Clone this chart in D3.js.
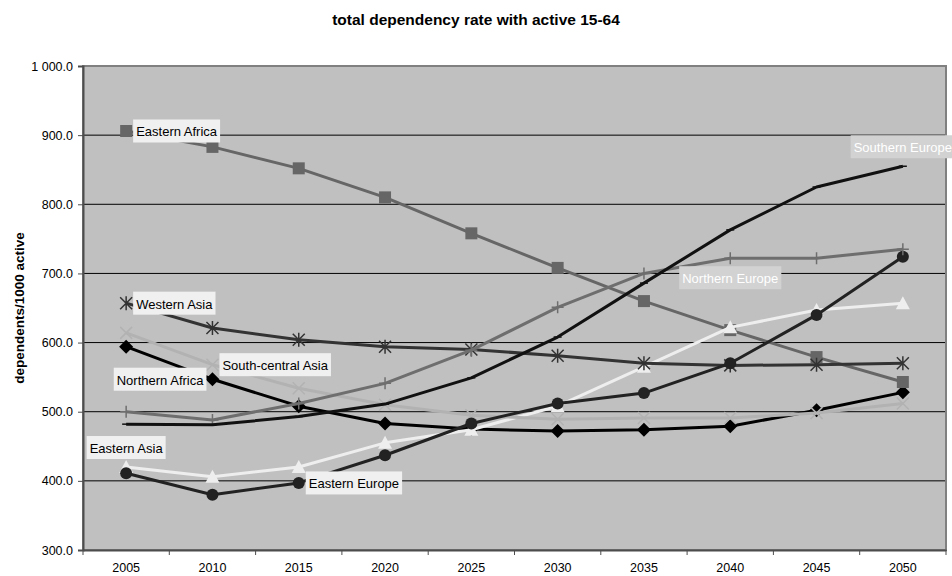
<!DOCTYPE html>
<html>
<head>
<meta charset="utf-8">
<script src="https://cdn.jsdelivr.net/npm/d3@7"></script>
<style>
  html, body { margin: 0; padding: 0; background: #ffffff; }
  svg { display: block; font-family: "Liberation Sans", Arial, sans-serif; }
</style>
</head>
<body>
<svg id="chart" width="952" height="576"></svg>
<script>
// Years on the category axis
const years = [2005, 2010, 2015, 2020, 2025, 2030, 2035, 2040, 2045, 2050];

// Total dependency rate (dependents per 1000 persons aged 15-64)
const northernAfrica   = [594, 547, 508, 483, 475, 472, 474, 479, 502, 528];
const easternAfrica    = [906, 883, 852, 810, 758, 708, 660, 618, 579, 543];
const easternAsia      = [420, 406, 420, 455, 474, 508, 565, 622, 647, 657];
const southCentralAsia = [614, 568, 534, 510, 495, 489, 491, 491, 498, 512];
const westernAsia      = [657, 621, 604, 594, 590, 581, 570, 567, 568, 570];
const easternEurope    = [411, 380, 397, 437, 483, 512, 527, 570, 640, 724];
const northernEurope   = [500, 488, 512, 541, 589, 651, 700, 722, 722, 735];
const southernEurope   = [482, 481, 493, 511, 549, 608, 686, 763, 825, 855];

const seriesNames = ["Northern Africa", "Eastern Africa", "Eastern Asia", "South-central Asia",
                     "Western Asia", "Eastern Europe", "Northern Europe", "Southern Europe"];
const yTicks = [300, 400, 500, 600, 700, 800, 900, 1000];

// Series styling (drawing order = list order)
const series = [
  { name: seriesNames[0], values: northernAfrica,   color: "#000000", marker: "diamond",  width: 3 },
  { name: seriesNames[1], values: easternAfrica,    color: "#666666", marker: "square",   width: 3 },
  { name: seriesNames[2], values: easternAsia,      color: "#eeeeee", marker: "triangle", width: 3 },
  { name: seriesNames[3], values: southCentralAsia, color: "#b2b2b2", marker: "times",    width: 3 },
  { name: seriesNames[4], values: westernAsia,      color: "#333333", marker: "asterisk", width: 3 },
  { name: seriesNames[5], values: easternEurope,    color: "#222222", marker: "circle",   width: 3 },
  { name: seriesNames[6], values: northernEurope,   color: "#6e6e6e", marker: "plus",     width: 3 },
  { name: seriesNames[7], values: southernEurope,   color: "#111111", marker: "dash",     width: 3 }
];

// Data labels: series, year index, placement, style
const labels = [
  { series: "Eastern Africa",     i: 0, place: "right", fill: "#f0f0f0", text: "#000" },
  { series: "Western Asia",       i: 0, place: "right", fill: "#f0f0f0", text: "#000" },
  { series: "South-central Asia", i: 1, place: "right", fill: "#f0f0f0", text: "#000" },
  { series: "Northern Africa",    i: 1, place: "left",  fill: "#f0f0f0", text: "#000" },
  { series: "Eastern Asia",       i: 0, place: "above", fill: "#f0f0f0", text: "#000" },
  { series: "Eastern Europe",     i: 2, place: "right", fill: "#f0f0f0", text: "#000" },
  { series: "Northern Europe",    i: 7, place: "below", fill: "#d2d2d2", text: "#fff" },
  { series: "Southern Europe",    i: 9, place: "above", fill: "#d2d2d2", text: "#fff" }
];

const svg = d3.select("#chart");
const plot = { left: 83, right: 946, top: 66, bottom: 550 };

const x = d3.scaleBand().domain(years).range([plot.left, plot.right]).padding(0);
const cx = d => x(d) + x.bandwidth() / 2;
const y = d3.scaleLinear().domain([300, 1000]).range([plot.bottom, plot.top]);

const fmt = d3.formatLocale({ decimal: ".", thousands: " ", grouping: [3], currency: ["", ""] }).format(",.1f");

// Title
svg.append("text")
  .attr("x", 476).attr("y", 25)
  .attr("text-anchor", "middle")
  .attr("font-weight", "bold").attr("font-size", 15.5)
  .attr("fill", "#000")
  .text("total dependency rate with active 15-64");

// Plot background
svg.append("rect")
  .attr("x", plot.left).attr("y", plot.top)
  .attr("width", plot.right - plot.left).attr("height", plot.bottom - plot.top)
  .attr("fill", "#c0c0c0");

// Gridlines
svg.append("g")
  .selectAll("line")
  .data(yTicks.filter(t => t > 300 && t < 1000))
  .join("line")
  .attr("x1", plot.left).attr("x2", plot.right)
  .attr("y1", d => y(d)).attr("y2", d => y(d))
  .attr("stroke", "#000").attr("stroke-width", 1);

// Plot frame
svg.append("rect")
  .attr("x", plot.left).attr("y", plot.top)
  .attr("width", plot.right - plot.left).attr("height", plot.bottom - plot.top)
  .attr("fill", "none").attr("stroke", "#808080").attr("stroke-width", 2);

// Y axis
const yAxis = svg.append("g")
  .attr("transform", `translate(${plot.left},0)`)
  .call(d3.axisLeft(y).tickValues(yTicks).tickFormat(fmt).tickSize(5).tickPadding(5));
yAxis.select(".domain").attr("stroke", "#4d4d4d").attr("stroke-width", 2);
yAxis.selectAll(".tick line").attr("stroke", "#4d4d4d");
yAxis.selectAll(".tick text")
  .attr("font-family", "Liberation Sans, Arial, sans-serif")
  .attr("font-size", 12.5).attr("fill", "#000");

// X axis: labels centred in bands, tick marks on band boundaries
const xAxis = svg.append("g")
  .attr("transform", `translate(0,${plot.bottom})`)
  .call(d3.axisBottom(x).tickSize(0).tickPadding(13));
xAxis.select(".domain").attr("stroke", "#4d4d4d").attr("stroke-width", 2);
xAxis.selectAll(".tick text")
  .attr("font-family", "Liberation Sans, Arial, sans-serif")
  .attr("font-size", 12.5).attr("fill", "#000");
xAxis.append("g")
  .selectAll("line")
  .data(years.map(d => x(d)).concat([plot.right]))
  .join("line")
  .attr("x1", d => d).attr("x2", d => d)
  .attr("y1", 0).attr("y2", 5)
  .attr("stroke", "#4d4d4d").attr("stroke-width", 1);

// Y axis title
svg.append("text")
  .attr("transform", `translate(24,${(plot.top + plot.bottom) / 2}) rotate(-90)`)
  .attr("text-anchor", "middle")
  .attr("font-weight", "bold").attr("font-size", 13.5)
  .attr("fill", "#000")
  .text("dependents/1000 active");

// Marker paths
function markerPath(type) {
  const s = 6;
  switch (type) {
    case "square":   return `M${-s},${-s}H${s}V${s}H${-s}Z`;
    case "diamond":  return `M0,${-s - 1}L${s + 1},0L0,${s + 1}L${-s - 1},0Z`;
    case "triangle": return `M0,${-s - 1}L${s + 1},${s}L${-s - 1},${s}Z`;
    case "circle":   return d3.symbol(d3.symbolCircle, Math.PI * 36)();
    case "times":    return `M${-s},${-s}L${s},${s}M${s},${-s}L${-s},${s}`;
    case "asterisk": return `M${-s},${-s}L${s},${s}M${s},${-s}L${-s},${s}M0,${-s - 1}V${s + 1}`;
    case "plus":     return `M0,${-s}V${s}M${-s},0H${s}`;
    case "dash":     return `M${-4},0H${4}`;
  }
}
const stroked = new Set(["times", "asterisk", "plus", "dash"]);

const line = d3.line().x((d, i) => cx(years[i])).y(d => y(d));

const gSeries = svg.append("g");
series.forEach(s => {
  const g = gSeries.append("g");
  g.append("path")
    .attr("d", line(s.values))
    .attr("fill", "none")
    .attr("stroke", s.color)
    .attr("stroke-width", s.width)
    .attr("stroke-linejoin", "round");
  g.selectAll("path.marker")
    .data(s.values)
    .join("path")
    .attr("class", "marker")
    .attr("transform", (d, i) => `translate(${cx(years[i])},${y(d)})`)
    .attr("d", markerPath(s.marker))
    .attr("fill", stroked.has(s.marker) ? "none" : s.color)
    .attr("stroke", s.color)
    .attr("stroke-width", stroked.has(s.marker) ? 1.5 : 0);
});

// Data labels
const gLabels = svg.append("g");
labels.forEach(l => {
  const s = series.find(d => d.name === l.series);
  const px = cx(years[l.i]);
  const py = y(s.values[l.i]);
  const g = gLabels.append("g");
  const t = g.append("text")
    .attr("font-size", 13)
    .attr("fill", l.text)
    .attr("dominant-baseline", "central")
    .text(l.series);
  const w = t.node().getComputedTextLength();
  const padX = 3, h = 23;
  let bx, by;
  if (l.place === "right") { bx = px + 7;  by = py - h / 2; }
  if (l.place === "left")  { bx = px - 6 - (w + 2 * padX); by = py - h / 2; }
  if (l.place === "above") { bx = px - (w + 2 * padX) / 2; by = py - 8 - h; }
  if (l.place === "below") { bx = px - (w + 2 * padX) / 2; by = py + 8; }
  g.insert("rect", "text")
    .attr("x", bx).attr("y", by)
    .attr("width", w + 2 * padX).attr("height", h)
    .attr("fill", l.fill);
  t.attr("x", bx + padX).attr("y", by + h / 2 + 1);
});
</script>
</body>
</html>
